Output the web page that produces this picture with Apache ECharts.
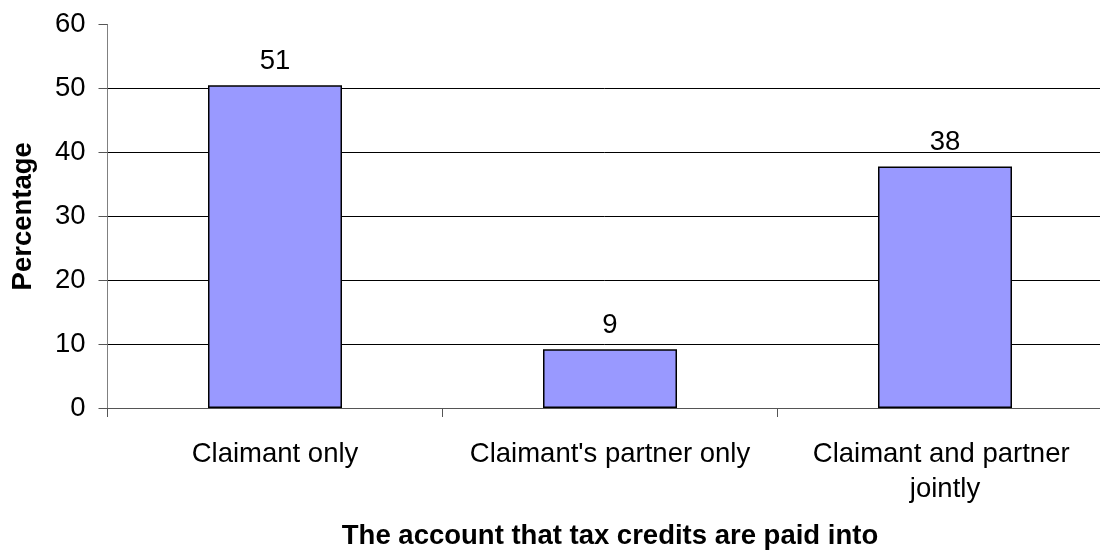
<!DOCTYPE html>
<html>
<head>
<meta charset="utf-8">
<script src="https://cdn.jsdelivr.net/npm/echarts@6/dist/echarts.min.js"></script>
<style>
html,body{margin:0;padding:0;background:#fff;}
#chart{width:1100px;height:551px;}
</style>
</head>
<body>
<div id="chart"></div>
<script>
const categories = ["Claimant only", "Claimant's partner only", "Claimant and partner jointly"];
const values = [50.5, 9.2, 37.8];
const valueLabels = ["51", "9", "38"];
const yAxisTitle = "Percentage";
const xAxisTitle = "The account that tax credits are paid into";

const FONT = "Liberation Sans, Arial, sans-serif";
const chart = echarts.init(document.getElementById('chart'), null, {renderer: 'canvas'});
chart.setOption({
  animation: false,
  backgroundColor: '#ffffff',
  grid: {left: 107.5, top: 24.5, width: 1005, height: 383.5, containLabel: false, outerBoundsMode: 'none'},
  xAxis: {
    type: 'category',
    data: categories,
    boundaryGap: true,
    name: xAxisTitle,
    nameLocation: 'middle',
    nameGap: 114,
    nameTextStyle: {fontFamily: FONT, fontSize: 27.5, fontWeight: 'bold', color: '#000'},
    axisLine: {lineStyle: {color: '#555', width: 1}},
    axisTick: {show: true, length: 9, alignWithLabel: false, lineStyle: {color: '#555'}},
    axisLabel: {fontFamily: FONT, fontSize: 27.5, color: '#000', margin: 29, lineHeight: 35,
      width: 310, overflow: 'break', interval: 0}
  },
  yAxis: {
    type: 'value',
    min: 0, max: 60, interval: 10,
    name: yAxisTitle,
    nameLocation: 'middle',
    nameGap: 70,
    nameTextStyle: {fontFamily: FONT, fontSize: 27.5, fontWeight: 'bold', color: '#000'},
    axisLine: {show: true, lineStyle: {color: '#808080', width: 1}},
    axisTick: {show: true, length: 9, lineStyle: {color: '#555'}},
    axisLabel: {fontFamily: FONT, fontSize: 27.5, color: '#000', margin: 22},
    splitLine: {show: true, showMaxLine: false, lineStyle: {color: '#000', width: 1}}
  },
  series: [{
    type: 'bar',
    data: values,
    barWidth: '40%',
    itemStyle: {color: '#9999FF', borderColor: '#000', borderWidth: 1.5},
    label: {
      show: true, position: 'top', distance: 10,
      fontFamily: FONT, fontSize: 27.5, color: '#000',
      formatter: p => valueLabels[p.dataIndex]
    }
  }]
});
</script>
</body>
</html>
